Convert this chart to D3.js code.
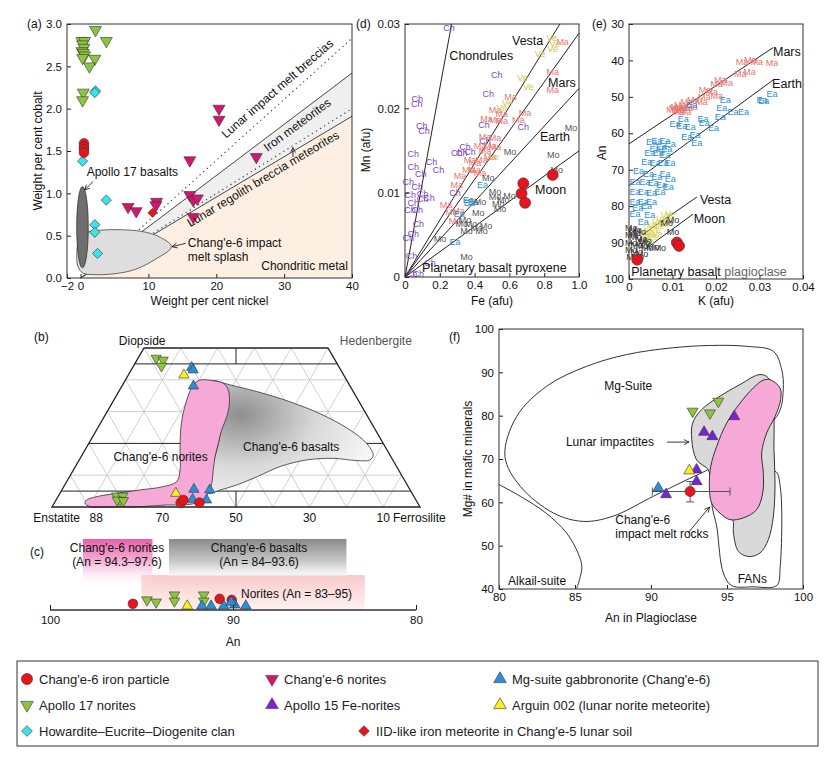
<!DOCTYPE html>
<html>
<head>
<meta charset="utf-8">
<script src="https://cdn.jsdelivr.net/npm/d3@7"></script>
<style>
  body { margin: 0; background: #fff; }
  svg { display: block; font-family: "Liberation Sans", Arial, sans-serif; }
</style>
</head>
<body>
<svg id="fig" width="834" height="759"></svg>
<script>
// ---------- panel (a): Ni (wt%) vs Co (wt%) ----------
const aApollo17 = [[0.2,2.80],[0.6,2.80],[0.3,2.76],[0.5,2.72],[0.2,2.68],[0.4,2.66],[0.6,2.63],[0.3,2.60],
  [2.2,2.93],[3.8,2.80],[2.1,2.59],[1.3,2.50],[0.4,2.19],[0.3,2.10]];
const aHED = [[2.2,2.21],[2.1,2.19],[0.3,1.38],[3.8,0.92],[2.1,0.63],[2.1,0.54],[2.5,0.29]];
const aIronCE6 = [[0.5,1.59],[0.5,1.55],[0.5,1.52],[0.5,1.48]];
const aIID = [[10.6,0.77]];
const aNoriteCE6 = [[20.4,2.0],[20.4,1.87],[16.1,1.39],[25.9,1.43],[7.0,0.84],[8.2,0.79],[11.2,0.90],
  [11.1,0.86],[16.1,0.98],[16.6,0.92],[17.2,0.94],[16.6,0.72]];
const aSplash = [[13.4,0.37],[11.5,0.49],[9,0.55],[6,0.57],[3,0.565],[1,0.54],[-0.2,0.45],[-0.55,0.3],
  [-0.4,0.14],[0.3,0.06],[2,0.04],[5,0.05],[8,0.1],[11,0.22]];
const aBasaltEllipse = {cx: 0.28, cy: 0.6, rx: 0.85, ry: 0.48};
const aIronUpper = [[0,0],[40,2.42]];
const aIronLower = [[0,0],[40,1.91]];
const aIronMid = [[9.5,0.47],[40,2.0]];
const aMeltBreccia = [[8.6,0.57],[40,2.83]];
const aXTicks = [-2,0,10,20,30,40];
const aYTicks = [0,0.5,1.0,1.5,2.0,2.5,3.0];

// ---------- panel (d): pyroxene Fe vs Mn (afu) ----------
const dLines = [
  {name:"Chondrules", end:[0.268,0.03], lab:[0.255,0.0257]},
  {name:"Vesta", end:[0.89,0.03], lab:[0.615,0.0275]},
  {name:"Mars", end:[1.0,0.0289], lab:[0.822,0.0225]},
  {name:"Earth", end:[1.0,0.02236], lab:[0.776,0.0161]},
  {name:"Moon", end:[1.0,0.01496], lab:[0.747,0.0098]}
];
const dCh = [[0.253,0.0295],[0.071,0.0211],[0.067,0.0205],[0.096,0.0179],[0.109,0.0173],[0.048,0.0146],
  [0.153,0.0137],[0.192,0.0127],[0.048,0.0131],[0.090,0.0122],[0.019,0.0113],[0.071,0.0107],[0.10,0.0093],
  [0.138,0.0094],[0.048,0.0088],[0.029,0.0080],[0.071,0.0080],[0.077,0.0063],[0.048,0.0051],[0.019,0.0046],
  [0.038,0.0025],[0.144,0.0017],[0.038,0.0004],[0.077,0.0004],[0.527,0.0240],[0.479,0.0217],[0.454,0.0180],
  [0.680,0.0178],[0.46,0.0162],[0.345,0.0154],[0.297,0.0147],[0.326,0.0147],[0.374,0.0148],[0.287,0.0100],
  [0.03,0.0098],[0.1,0.0099]];
const dMa = [[0.906,0.0279],[0.849,0.0243],[0.849,0.0222],[0.607,0.0214],[0.517,0.0198],[0.556,0.0194],
  [0.469,0.0188],[0.517,0.0186],[0.556,0.0185],[0.651,0.0186],[0.690,0.0195],[0.46,0.0166],[0.517,0.0165],
  [0.431,0.0155],[0.488,0.0156],[0.517,0.0154],[0.374,0.0139],[0.402,0.0135],[0.44,0.0139],[0.488,0.0142],
  [0.364,0.0127],[0.431,0.0123],[0.316,0.0120],[0.297,0.0109],[0.236,0.0085],[0.307,0.0078],[0.287,0.0067],
  [0.268,0.0077],[0.46,0.0150],[0.40,0.0127]];
const dVe = [[0.843,0.0283],[0.849,0.0271],[0.776,0.0265],[0.676,0.0236],[0.709,0.0226],[0.588,0.0207],
  [0.556,0.0200],[0.508,0.0142],[0.86,0.0276]];
const dEa = [[0.446,0.0109],[0.364,0.0091],[0.393,0.0089],[0.312,0.0075],[0.287,0.0042],[0.37,0.0088]];
const dMo = [[0.954,0.0177],[0.852,0.0145],[0.872,0.0127],[0.603,0.0148],[0.479,0.0118],[0.517,0.0101],
  [0.517,0.0095],[0.565,0.0092],[0.536,0.0087],[0.546,0.0081],[0.431,0.0089],[0.421,0.0076],[0.345,0.0068],
  [0.326,0.0063],[0.354,0.0055],[0.412,0.0058],[0.466,0.0061],[0.44,0.0055],[0.201,0.0045],[0.354,0.0024],
  [0.60,0.0096],[0.38,0.0063]];
const dIron = [[0.680,0.0111],[0.670,0.0099],[0.690,0.0088],[0.849,0.0121]];
const dXTicks = [0,0.2,0.4,0.6,0.8,1.0];
const dYTicks = [0,0.01,0.02,0.03];

// ---------- panel (e): plagioclase K (afu) vs An ----------
const eLines = [
  {name:"Mars", seg:[[0,62.9],[0.0331,36.5]], lab:[0.0331,38.8]},
  {name:"Earth", seg:[[0,74.4],[0.0331,45.4]], lab:[0.0329,47.6]},
  {name:"Vesta", seg:[[0.003,87.9],[0.0156,77.5]], lab:[0.0163,79.4]},
  {name:"Moon", seg:[[0.0044,91.2],[0.0147,82.2]], lab:[0.0149,84.6]}
];
const eMa = [[0.026,40.5],[0.0279,39.9],[0.0294,40.3],[0.0329,40.8],[0.0256,43.7],[0.0277,43.1],[0.021,45.2],
  [0.0225,46.1],[0.0202,46.3],[0.0175,48.1],[0.019,48.6],[0.0173,49.9],[0.0202,49.7],[0.0167,51.3],[0.0148,50.7],
  [0.0133,51.3],[0.0118,52.2],[0.011,52.7],[0.0121,53.1],[0.0133,53.1],[0.0144,52.7],[0.0106,53.1],[0.0118,53.6],
  [0.0129,54.0],[0.0113,54.2],[0.0100,53.6]];
const eEa = [[0.0329,49.3],[0.0306,50.8],[0.031,51.0],[0.0221,50.8],[0.0213,53.1],[0.0239,54.0],[0.0263,54.0],
  [0.021,55.4],[0.0144,52.2],[0.0125,56.1],[0.017,55.9],[0.0173,57.1],[0.0194,58.6],[0.0106,57.5],[0.0121,58.0],
  [0.0141,58.2],[0.0133,61.1],[0.0152,60.4],[0.0156,62.7],[0.0052,62.3],[0.0064,62.0],[0.0083,62.0],[0.0095,62.9],
  [0.0075,63.8],[0.006,64.2],[0.0087,64.2],[0.0048,65.5],[0.0067,65.5],[0.0083,65.9],[0.0041,67.8],[0.006,68.2],
  [0.0079,68.2],[0.0094,68.0],[0.0022,70.2],[0.0045,71.1],[0.0064,72.0],[0.0083,71.1],[0.0095,72.4],[0.0014,73.3],
  [0.0037,73.3],[0.0056,73.7],[0.0075,74.2],[0.0090,74.6],[0.0014,76.0],[0.0033,76.0],[0.0052,76.4],[0.0071,76.0],
  [0.0014,78.7],[0.0033,78.7],[0.0052,78.7],[0.0014,82.0],[0.0048,82.4],[0.0033,84.2],[0.002,80.5],[0.004,80.0]];
const eVe = [[0.0035,87],[0.0045,86],[0.0055,85],[0.0065,84.3],[0.0075,83.5],[0.0085,82.5],[0.0095,82],
  [0.004,88],[0.005,87.5],[0.006,86.5],[0.007,85.5],[0.008,84.8],[0.009,84],[0.003,89],[0.0045,89.5],
  [0.0055,88.5],[0.0065,87.5]];
const eMo = [[0.0005,86],[0.0015,86.5],[0.0025,87],[0.0005,88],[0.0015,88.5],[0.0028,89],[0.0038,89.5],
  [0.0005,90],[0.0018,90.5],[0.003,91],[0.0042,91.5],[0.0005,92],[0.0018,92.5],[0.003,93],[0.0008,94],
  [0.002,93.8],[0.0035,90],[0.0012,87.2],[0.0101,83.8],[0.0087,84.6],[0.0101,87.1],[0.0071,91.5],[0.0055,91.3]];
const eIron = [[0.0019,94.7],[0.011,90.0],[0.0115,90.9]];
const eXTicks = [0,0.01,0.02,0.03,0.04];
const eYTicks = [30,40,50,60,70,80,90,100];

// ---------- panel (b): pyroxene quadrilateral, points as [Fs, Wo] ----------
const bApollo17 = [[4.9,46.8],[7.1,46.2],[7.6,44.3],[15.85,3.46],[17.5,3.46],[17.5,2.0],[16.6,2.2],[18.4,2.0]];
const bMgGabbro = [[16.0,43.9],[16.8,43.1],[19.4,38.05],[35.8,5.55],[40.2,5.35],[37.0,2.4],[40.9,2.2]];
const bArguin = [[15.1,41.5],[31.5,4.3]];
const bIronCE6 = [[34.3,1.35],[34.6,2.2],[39.4,1.35]];
const bNorites = [[8.4,1.16],[8.3,2.2],[10.5,3.24],[15.4,4.3],[21.2,5.35],[27.0,6.4],[29.9,7.96],[29.0,11.6],
  [25.3,19.0],[22.0,26.3],[19.8,33.6],[19.2,38.4],[20.2,39.9],[24.0,39.7],[27.1,38.9],[29.5,36.8],[31.9,32.6],
  [33.3,28.4],[34.0,24.2],[35.2,20.0],[36.4,15.8],[38.0,11.6],[39.7,7.45],[40.3,4.3],[39.4,1.67],[35.4,0.63],
  [30.9,0.63],[23.9,0.1],[14.9,0],[10.3,0.1]];
const bBasalts = [[24.0,39.7],[29.2,38.4],[37.5,36.3],[48.1,33.1],[59.2,28.9],[68.9,24.2],[75.5,20.0],
  [79.1,16.35],[79.0,14.8],[75.5,14.6],[68.8,15.3],[61.8,14.8],[55.6,12.7],[50.9,9.5],[46.7,6.9],[43.0,5.35],
  [40.3,4.3],[37.5,11.6],[35.2,20.0],[32.0,28.4],[28.5,36.8]];
const bGridWo = [10,30,40];
const bClassWo = [5,20,45];
const bBaseLabels = [88,70,50,30,10];

// ---------- panel (c): An of plagioclase ----------
const cBoxes = [
  {name:"norites", an:[95.0,82.8], grad:"cLight", top:575, bot:610},
  {name:"ce6norites", an:[98.2,94.4], grad:"cPink", top:539, bot:588},
  {name:"ce6basalts", an:[93.5,83.8], grad:"cGray", top:539, bot:576}
];
const cIronCE6 = [[95.47,0.4],[90.73,1.3],[90.07,1.1]];
const cApollo17 = [[94.7,1.1],[94.2,0.7],[93.2,2],[93.2,0.9],[91.6,2],[91.6,0.9]];
const cArguin = [[92.5,0]];
const cMgGabbro = [[91.7,0],[91.2,0],[90.5,0],[89.9,0.2],[89.3,0],[90.1,0.7]];
const cTicks = [100,90,80];

// ---------- panel (f): An in plagioclase vs Mg# ----------
const fMgSuite = [[80.39,70.6],[81.16,79.8],[83.14,86.8],[85.77,91.4],[88.4,94.1],[91.25,95.6],[93.9,96.2],
  [96.3,96.0],[98.05,94.85],[98.6,90.6],[98.7,86.0],[98.4,80.6],[96.7,74.5],[94.5,69.8],[93.9,67.9],[92.35,65.2],
  [90.15,61.4],[87.5,56.8],[85.55,55.6],[83.6,57.5],[81.4,63.7]];
const fAlkali = [[80,64.1],[81.4,61.4],[83.1,57.5],[84.45,52.9],[85.2,48.3],[85.45,45.2],[85.3,42.2],[85.1,40.1]];
const fFANs = [[94.1,61.4],[94.36,53.7],[94.76,43.7],[95.3,40.8],[96.73,40.5],[98.27,40.8],[98.5,45.2],
  [98.5,63.7],[98.16,67.2],[96.0,64.0]];
const fImpactites = [[92.68,74.5],[92.74,78.3],[93.33,81.4],[94.54,84.5],[95.86,87.2],[97.17,89.5],[97.72,88.7],
  [97.94,85.2],[98.09,79.8],[98.09,72.2],[98.16,64.5],[98.05,56.8],[97.72,51.4],[97.17,48.3],[96.4,47.5],
  [95.75,48.7],[95.42,52.9],[95.37,56.0],[94.54,57.5],[93.99,60.6],[93.88,65.2],[93.77,67.5],[93.0,69.8]];
const fPink = [[97.83,88.3],[98.49,86.4],[98.53,83.7],[98.16,79.8],[97.61,76.0],[97.28,71.4],[97.39,66.8],
  [97.35,62.2],[96.95,58.3],[96.07,56.4],[95.2,56.0],[94.54,57.5],[93.99,59.8],[93.84,63.7],[93.93,68.3],
  [94.32,72.9],[94.98,78.3],[95.86,82.9],[96.73,86.4],[97.39,88.2]];
const fApollo17 = [[92.74,81.0],[93.88,80.6],[94.43,83.3]];
const fApollo15 = [[95.48,79.8],[93.49,76.2],[94.04,75.2],[93.0,67.5],[93.0,64.8],[90.99,61.8]];
const fMgGabbro = [[90.48,63.3]];
const fArguin = [[92.52,67.3]];
const fIronCE6 = {an:92.57, mg:62.5, anRange:[90.09,95.2], mgRange:[60.1,64.8]};
const fXTicks = [80,85,90,95,100];
const fYTicks = [40,50,60,70,80,90,100];

// ---------- marker styles ----------
const STYLE = {
  ironCE6:   {shape:"circle",  fill:"#e8141c", label:"Chang'e-6 iron particle"},
  noriteCE6: {shape:"down",    fill:"#d4166e", label:"Chang'e-6 norites"},
  mgGabbro:  {shape:"up",      fill:"#2a8fd9", label:"Mg-suite gabbronorite (Chang'e-6)"},
  apollo17:  {shape:"down",    fill:"#8cc63e", label:"Apollo 17 norites"},
  apollo15:  {shape:"up",      fill:"#7b22d8", label:"Apollo 15 Fe-norites"},
  arguin:    {shape:"up",      fill:"#f6f01c", label:"Arguin 002 (lunar norite meteorite)"},
  hed:       {shape:"diamond", fill:"#38e4f0", label:"Howardite\u2013Eucrite\u2013Diogenite clan"},
  iid:       {shape:"diamond", fill:"#e8141c", label:"IID-like iron meteorite in Chang'e-5 lunar soil"}
};
const TXT = {Ch:"#7c3fc6", Ma:"#e8766f", Ve:"#cfc24a", Ea:"#2f8dd0", Mo:"#555"};

const svg = d3.select("#fig");
const defs = svg.append("defs");

function marker(g, key, x, y, k = 1) {
  const st = STYLE[key];
  let p, rot = 0;
  if (st.shape === "circle") p = d3.symbol(d3.symbolCircle, 74 * k)();
  else if (st.shape === "diamond") { p = d3.symbol(d3.symbolSquare, 52 * k)(); rot = 45; }
  else { p = d3.symbol(d3.symbolTriangle, 62 * k)(); rot = st.shape === "down" ? 180 : 0; }
  g.append("path").attr("d", p)
    .attr("transform", `translate(${x},${y}) rotate(${rot})`)
    .attr("fill", st.fill).attr("stroke", "#333").attr("stroke-width", 0.6);
}

function styleAxis(g) {
  g.attr("font-family", null).attr("font-size", null);
  g.select(".domain").remove();
  g.selectAll("text").attr("font-size", 11.5).attr("fill", "#111");
  g.selectAll("line").attr("stroke", "#222");
}

function addAxes(x, y, xt, yt, xf, yf) {
  const left = d3.min(x.range()), right = d3.max(x.range());
  const top = d3.min(y.range()), bottom = d3.max(y.range());
  svg.append("g").attr("transform", `translate(0,${bottom})`)
    .call(d3.axisBottom(x).tickValues(xt).tickFormat(xf).tickSizeInner(-4).tickSizeOuter(0).tickPadding(4))
    .call(styleAxis);
  svg.append("g").attr("transform", `translate(${left},0)`)
    .call(d3.axisLeft(y).tickValues(yt).tickFormat(yf).tickSizeInner(-4).tickSizeOuter(0).tickPadding(5))
    .call(styleAxis);
  svg.append("rect").attr("x", left).attr("y", top).attr("width", right - left).attr("height", bottom - top)
    .attr("fill", "none").attr("stroke", "#333").attr("stroke-width", 1);
}

function label(t, x, y, opt = {}) {
  const e = svg.append("text").attr("x", x).attr("y", y).text(t)
    .attr("font-size", opt.size || 12).attr("fill", opt.fill || "#111")
    .attr("text-anchor", opt.anchor || "start");
  if (opt.rotate !== undefined) e.attr("transform", `rotate(${opt.rotate},${x},${y})`);
  return e;
}

defs.append("marker").attr("id", "arrow").attr("viewBox", "0 0 10 10").attr("refX", 9).attr("refY", 5)
  .attr("markerWidth", 7).attr("markerHeight", 7).attr("orient", "auto-start-reverse")
  .append("path").attr("d", "M1,1 L9,5 L1,9").attr("fill", "none").attr("stroke", "#222").attr("stroke-width", 1.3);

function arrow(p0, p1) {
  svg.append("line").attr("x1", p0[0]).attr("y1", p0[1]).attr("x2", p1[0]).attr("y2", p1[1])
    .attr("stroke", "#222").attr("stroke-width", 0.9).attr("marker-end", "url(#arrow)");
}

// ================= panel (a) =================
{
  const x = d3.scaleLinear([-2, 40], [67, 352]);
  const y = d3.scaleLinear([0, 3], [278, 24]);
  const line = d3.line().x(d => x(d[0])).y(d => y(d[1]));
  const g = svg.append("g");
  g.append("path").attr("d", line([[0,0], aIronLower[1], [40,0]]) + "Z").attr("fill", "#fdf0e3");
  g.append("path").attr("d", line([[0,0], aIronUpper[1], aIronLower[1]]) + "Z").attr("fill", "#efefef");
  [aIronUpper, aIronLower].forEach(s => g.append("path").attr("d", line(s)).attr("stroke", "#333").attr("fill", "none").attr("stroke-width", 0.9));
  [aIronMid, aMeltBreccia].forEach(s => g.append("path").attr("d", line(s)).attr("stroke", "#333").attr("fill", "none")
    .attr("stroke-width", 1.1).attr("stroke-dasharray", "1.2 3.6"));
  g.append("path").attr("d", d3.line().x(d => x(d[0])).y(d => y(d[1])).curve(d3.curveCatmullRomClosed)(aSplash))
    .attr("fill", "#dedede").attr("stroke", "#444").attr("stroke-width", 0.8);
  g.append("ellipse").attr("cx", x(aBasaltEllipse.cx)).attr("cy", y(aBasaltEllipse.cy))
    .attr("rx", x(aBasaltEllipse.rx) - x(0)).attr("ry", y(0) - y(aBasaltEllipse.ry))
    .attr("fill", "#6e6e6e").attr("stroke", "#333").attr("stroke-width", 0.8);

  aApollo17.forEach(d => marker(g, "apollo17", x(d[0]), y(d[1])));
  aHED.forEach(d => marker(g, "hed", x(d[0]), y(d[1])));
  aIronCE6.forEach(d => marker(g, "ironCE6", x(d[0]), y(d[1])));
  aNoriteCE6.forEach(d => marker(g, "noriteCE6", x(d[0]), y(d[1])));
  aIID.forEach(d => marker(g, "iid", x(d[0]), y(d[1]), 0.8));

  label("Lunar impact melt breccias", x(29.4), y(2.2), {rotate: -41, anchor: "middle"});
  label("Iron meteorites", x(32.3), y(1.77), {rotate: -36.5, anchor: "middle"});
  label("Lunar regolith breccia meteorites", x(27.2), y(1.13), {rotate: -31, anchor: "middle"});
  label("Apollo 17 basalts", x(0.9), y(1.2));
  arrow([x(1.85), y(1.14)], [x(0.6), y(1.04)]);
  label("Chang'e-6 impact", x(15.8), y(0.37));
  label("melt splash", x(15.8), y(0.2));
  arrow([x(15.5), y(0.41)], [x(13.5), y(0.37)]);
  arrow([x(31.3), y(1.43)], [x(31.3), y(1.54)]);
  label("Chondritic metal", x(39.4), y(0.1), {anchor: "end"});

  addAxes(x, y, aXTicks, aYTicks, d3.format("d"), d3.format(".1f"));
  label("(a)", 27, 28, {size: 12});
  label("Weight per cent nickel", (x(-2) + x(40)) / 2, 305, {anchor: "middle"});
  label("Weight per cent cobalt", 42, 151, {anchor: "middle", rotate: -90});
}

// ================= panel (d) =================
{
  const x = d3.scaleLinear([0, 1], [405, 579]);
  const y = d3.scaleLinear([0, 0.03], [277, 24]);
  const g = svg.append("g");
  dLines.forEach(l => {
    g.append("line").attr("x1", x(0)).attr("y1", y(0)).attr("x2", x(l.end[0])).attr("y2", y(l.end[1]))
      .attr("stroke", "#222").attr("stroke-width", 1);
  });
  const sets = [["Ch", dCh], ["Ma", dMa], ["Ve", dVe], ["Ea", dEa], ["Mo", dMo]];
  sets.forEach(([t, arr]) => g.selectAll(null).data(arr).join("text")
    .attr("x", d => x(d[0])).attr("y", d => y(d[1])).attr("dy", "0.35em").attr("text-anchor", "middle")
    .attr("font-size", 9).attr("fill", TXT[t]).text(t));
  dIron.forEach(d => marker(g, "ironCE6", x(d[0]), y(d[1]), 1.3));
  dLines.forEach(l => label(l.name, x(l.lab[0]), y(l.lab[1]), {size: 12.5}));
  label("Planetary basalt pyroxene", x(0.098), y(0.0006), {size: 12.5});
  addAxes(x, y, dXTicks, dYTicks, d => d === 0 ? "0" : d.toFixed(1), d => d === 0 ? "0" : d.toFixed(2));
  label("(d)", 356, 28, {size: 12});
  label("Fe (afu)", (x(0) + x(1)) / 2, 305, {anchor: "middle"});
  label("Mn (afu)", 370, 150, {anchor: "middle", rotate: -90});
}

// ================= panel (e) =================
{
  const x = d3.scaleLinear([0, 0.04], [629, 803]);
  const y = d3.scaleLinear([30, 100], [24, 279]);
  const g = svg.append("g");
  eLines.forEach(l => g.append("line").attr("x1", x(l.seg[0][0])).attr("y1", y(l.seg[0][1]))
    .attr("x2", x(l.seg[1][0])).attr("y2", y(l.seg[1][1])).attr("stroke", "#222").attr("stroke-width", 1));
  const sets = [["Ma", eMa, TXT.Ma], ["Ea", eEa, "#2b8fd6"], ["Ve", eVe, "#d6cf48"], ["Mo", eMo, "#333"]];
  sets.forEach(([t, arr, c]) => g.selectAll(null).data(arr).join("text")
    .attr("x", d => x(d[0])).attr("y", d => y(d[1])).attr("dy", "0.35em").attr("text-anchor", "middle")
    .attr("font-size", 9).attr("fill", c).text(t));
  eIron.forEach(d => marker(g, "ironCE6", x(d[0]), y(d[1]), 1.3));
  eLines.forEach(l => label(l.name, x(l.lab[0]), y(l.lab[1]), {size: 12.5}));
  const pb = label("Planetary basalt ", x(0.0005), y(99.2), {size: 12.5});
  pb.append("tspan").attr("fill", "#666").text("plagioclase");
  addAxes(x, y, eXTicks, eYTicks, d => d === 0 ? "0" : d.toFixed(2), d3.format("d"));
  label("(e)", 592, 28, {size: 12});
  label("K (afu)", (x(0) + x(0.04)) / 2, 305, {anchor: "middle"});
  label("An", 606, 153, {anchor: "middle", rotate: -90});
}

// ================= panel (b) =================
{
  const xs = d3.scaleLinear([0, 100], [52, 420]);
  const ys = d3.scaleLinear([0, 50], [507, 348]);
  const T = (fs, wo) => [xs(fs + wo / 2), ys(wo)];
  const g = svg.append("g");
  const grad = defs.append("radialGradient").attr("id", "bGrad").attr("cx", 0.2).attr("cy", 0.3).attr("r", 0.9);
  grad.append("stop").attr("offset", 0).attr("stop-color", "#8e8e8e");
  grad.append("stop").attr("offset", 0.5).attr("stop-color", "#d8d8d8");
  grad.append("stop").attr("offset", 1).attr("stop-color", "#fbfbfb");

  const seg = (a, b, c, w) => g.append("line").attr("x1", a[0]).attr("y1", a[1]).attr("x2", b[0]).attr("y2", b[1])
    .attr("stroke", c).attr("stroke-width", w);
  // triangular grid: constant Fs and constant En lines every 10 %
  d3.range(10, 100, 10).forEach(f => {
    const wm = Math.min(50, 100 - f);
    seg(T(f, 0), T(f, wm), "#c4c4c4", 0.8);
    seg(T(100 - f, 0), T(100 - f - wm, wm), "#c4c4c4", 0.8);
  });
  bGridWo.forEach(w => seg(T(0, w), T(100 - w, w), "#c4c4c4", 0.8));
  bClassWo.forEach(w => seg(T(0, w), T(100 - w, w), "#222", 1));
  seg([xs(50), ys(45)], [xs(50), ys(50)], "#222", 1);
  seg([xs(50), ys(0)], [xs(50), ys(5)], "#222", 1);

  const area = d3.line().x(d => T(d[0], d[1])[0]).y(d => T(d[0], d[1])[1]).curve(d3.curveCatmullRomClosed);
  g.append("path").attr("d", area(bBasalts)).attr("fill", "url(#bGrad)").attr("stroke", "#333").attr("stroke-width", 0.8);
  g.append("path").attr("d", area(bNorites)).attr("fill", "#f6a9d6").attr("stroke", "#333").attr("stroke-width", 0.8);
  g.append("path").attr("d", d3.line()([T(0, 0), T(100, 0), T(50, 50), T(0, 50)]) + "Z")
    .attr("fill", "none").attr("stroke", "#222").attr("stroke-width", 1.3);

  bApollo17.forEach(d => marker(g, "apollo17", ...T(d[0], d[1]), 0.75));
  bArguin.forEach(d => marker(g, "arguin", ...T(d[0], d[1]), 0.75));
  bMgGabbro.forEach(d => marker(g, "mgGabbro", ...T(d[0], d[1]), 0.75));
  bIronCE6.forEach(d => marker(g, "ironCE6", ...T(d[0], d[1]), 1.0));

  label("Chang'e-6 norites", xs(29.5), ys(14.5), {anchor: "middle"});
  label("Chang'e-6 basalts", xs(65), ys(17.5), {anchor: "middle"});
  label("(b)", 34, 341);
  label("Diopside", xs(24.5), 345, {anchor: "middle"});
  label("Hedenbergite", xs(88), 345, {anchor: "middle", fill: "#555"});
  label("Enstatite", 80, 522, {anchor: "end"});
  bBaseLabels.forEach(v => label(String(v), xs(100 - v), 522, {anchor: "middle"}));
  label("Ferrosilite", 393, 522);
}

// ================= panel (c) =================
{
  const x = d3.scaleLinear([100, 80], [50, 416]);
  const g = svg.append("g");
  const mk = (id, stops) => {
    const gr = defs.append("linearGradient").attr("id", id).attr("x1", 0).attr("y1", 0).attr("x2", 0).attr("y2", 1);
    stops.forEach(s => gr.append("stop").attr("offset", s[0]).attr("stop-color", s[1]).attr("stop-opacity", s[2]));
  };
  mk("cPink", [[0, "#e95fa8", 1], [0.45, "#f3a7cf", 0.9], [1, "#ffffff", 0]]);
  mk("cGray", [[0, "#8a8a8a", 1], [0.6, "#c8c8c8", 1], [1, "#f3f3f3", 0.6]]);
  mk("cLight", [[0, "#f9caca", 1], [1, "#fff2f2", 1]]);
  cBoxes.forEach(b => g.append("rect").attr("x", x(b.an[0])).attr("width", x(b.an[1]) - x(b.an[0]))
    .attr("y", b.top).attr("height", b.bot - b.top).attr("fill", `url(#${b.grad})`));

  label("Chang'e-6 norites", 117, 552, {anchor: "middle"});
  label("(An = 94.3\u201397.6)", 117, 566, {anchor: "middle"});
  label("Chang'e-6 basalts", 259, 552, {anchor: "middle"});
  label("(An = 84\u201393.6)", 259, 566, {anchor: "middle"});
  label("Norites (An = 83\u201395)", 241, 598);
  label("(c)", 30, 556);

  const yl = lv => 606 - lv * 5.5;
  cIronCE6.forEach(d => marker(g, "ironCE6", x(d[0]), yl(d[1])));
  cApollo17.forEach(d => marker(g, "apollo17", x(d[0]), yl(d[1]), 0.8));
  cArguin.forEach(d => marker(g, "arguin", x(d[0]), yl(d[1]), 0.8));
  cMgGabbro.forEach(d => marker(g, "mgGabbro", x(d[0]), yl(d[1]), 0.8));

  svg.append("line").attr("x1", x(100)).attr("x2", x(80)).attr("y1", 610).attr("y2", 610)
    .attr("stroke", "#333").attr("stroke-width", 1.6);
  svg.append("g").attr("transform", "translate(0,610)")
    .call(d3.axisBottom(x).tickValues(cTicks).tickSizeInner(-5).tickSizeOuter(0).tickPadding(6))
    .call(styleAxis);
  label("An", x(90), 646, {anchor: "middle"});
}

// ================= panel (f) =================
{
  const x = d3.scaleLinear([80, 100], [499, 803]);
  const y = d3.scaleLinear([40, 100], [589, 329]);
  const g = svg.append("g");
  const closed = d3.line().x(d => x(d[0])).y(d => y(d[1])).curve(d3.curveCatmullRomClosed);
  const open = d3.line().x(d => x(d[0])).y(d => y(d[1])).curve(d3.curveCatmullRom);
  g.append("path").attr("d", closed(fMgSuite)).attr("fill", "none").attr("stroke", "#333").attr("stroke-width", 1);
  g.append("path").attr("d", open(fAlkali)).attr("fill", "none").attr("stroke", "#333").attr("stroke-width", 1);
  g.append("path").attr("d", closed(fFANs)).attr("fill", "#fff").attr("stroke", "#333").attr("stroke-width", 1);
  g.append("path").attr("d", closed(fImpactites)).attr("fill", "#d9d9d9").attr("stroke", "#333").attr("stroke-width", 1);
  g.append("path").attr("d", closed(fPink)).attr("fill", "#f6a9d6").attr("stroke", "#333").attr("stroke-width", 1);

  // error bars
  const eb = fIronCE6;
  const bar = (a, b) => g.append("line").attr("x1", a[0]).attr("y1", a[1]).attr("x2", b[0]).attr("y2", b[1])
    .attr("stroke", "#555").attr("stroke-width", 1);
  bar([x(eb.anRange[0]), y(eb.mg)], [x(eb.anRange[1]), y(eb.mg)]);
  eb.anRange.forEach(v => bar([x(v), y(eb.mg) - 4], [x(v), y(eb.mg) + 4]));
  bar([x(eb.an), y(eb.mgRange[0])], [x(eb.an), y(eb.mgRange[1])]);
  eb.mgRange.forEach(v => bar([x(eb.an) - 4, y(v)], [x(eb.an) + 4, y(v)]));

  fApollo17.forEach(d => marker(g, "apollo17", x(d[0]), y(d[1]), 0.85));
  fApollo15.forEach(d => marker(g, "apollo15", x(d[0]), y(d[1]), 0.85));
  fMgGabbro.forEach(d => marker(g, "mgGabbro", x(d[0]), y(d[1]), 0.85));
  fArguin.forEach(d => marker(g, "arguin", x(d[0]), y(d[1]), 0.85));
  marker(g, "ironCE6", x(eb.an), y(eb.mg), 1.1);

  label("Mg-Suite", x(88.5), y(85.9), {anchor: "middle"});
  label("Lunar impactites", x(87.3), y(73.0), {anchor: "middle"});
  arrow([x(91.05), y(73.9)], [x(92.5), y(73.9)]);
  label("Chang'e-6", x(87.65), y(55.1));
  label("impact melt rocks", x(87.65), y(51.8));
  arrow([x(92.43), y(52.9)], [x(93.85), y(58.9)]);
  label("Alkail-suite", x(80.6), y(40.9));
  label("FANs", x(95.7), y(41.3));

  addAxes(x, y, fXTicks, fYTicks, d3.format("d"), d3.format("d"));
  label("(f)", 449, 341);
  label("An in Plagioclase", (x(80) + x(100)) / 2, 622, {anchor: "middle"});
  label("Mg# in mafic minerals", 472, 459, {anchor: "middle", rotate: -90});
}

// ================= legend =================
{
  const g = svg.append("g");
  g.append("rect").attr("x", 17).attr("y", 661).attr("width", 801).attr("height", 85)
    .attr("fill", "#fff").attr("stroke", "#333").attr("stroke-width", 1);
  const items = [
    ["ironCE6", 27, 679], ["noriteCE6", 272, 679], ["mgGabbro", 500, 679],
    ["apollo17", 27, 705], ["apollo15", 272, 705], ["arguin", 500, 705],
    ["hed", 27, 731], ["iid", 364, 731]
  ];
  items.forEach(([k, px, py]) => {
    marker(g, k, px, py, k === "ironCE6" ? 1.3 : 1.1);
    g.append("text").attr("x", px + 12).attr("y", py).attr("dy", "0.36em").text(STYLE[k].label)
      .attr("font-family", "'Liberation Sans Narrow', 'Arial Narrow', 'Liberation Sans', sans-serif")
      .attr("font-size", 13).attr("fill", "#222");
  });
}
</script>
</body>
</html>
